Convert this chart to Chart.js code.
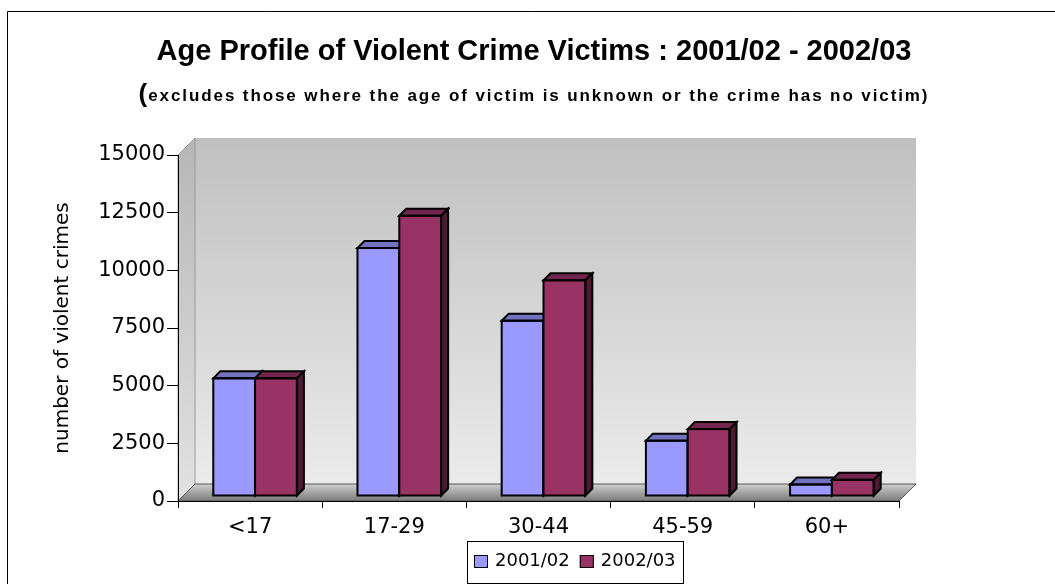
<!DOCTYPE html>
<html>
<head>
<meta charset="utf-8">
<title>Age Profile of Violent Crime Victims</title>
<script src="https://cdn.jsdelivr.net/npm/chart.js@4.4.1/dist/chart.umd.min.js"></script>
<style>
  html, body { margin: 0; padding: 0; background: #fff; }
</style>
</head>
<body>
<canvas id="myChart" width="1055" height="584"></canvas>
<script>
// Chart data
const ageGroups = ['<17', '17-29', '30-44', '45-59', '60+'];
const seriesNames = ['2001/02', '2002/03'];
const victims2001 = [5100, 10750, 7600, 2400, 500];
const victims2002 = [5100, 12150, 9350, 2900, 700];
const yTicks = [0, 2500, 5000, 7500, 10000, 12500, 15000];

const titleText = 'Age Profile of Violent Crime Victims : 2001/02 - 2002/03';
const subtitleText = 'excludes those where the age of victim is unknown or the crime has no victim)';
const yTitleText = 'number of violent crimes';

const WALL_DEPTH = 17; // depth of the 3d walls / floor
const BAR_SHIFT = 5;   // bars stand a bit behind the front edge
const BAR_DEPTH = 7;   // depth of each bar

const ctx = document.getElementById('myChart').getContext('2d');

function poly(c, pts, fill) {
    c.beginPath();
    c.moveTo(pts[0][0], pts[0][1]);
    for (let i = 1; i < pts.length; i++) c.lineTo(pts[i][0], pts[i][1]);
    c.closePath();
    if (fill) { c.fillStyle = fill; c.fill(); }
}

const depthPlugin = {
    id: 'depth3d',
    beforeDraw(chart) {
        const c = chart.ctx, a = chart.chartArea, d = WALL_DEPTH;
        c.save();
        c.fillStyle = '#fff';
        c.fillRect(0, 0, chart.width, chart.height);

        // outer frame (only top and left edges are in view)
        c.strokeStyle = '#000';
        c.lineWidth = 1;
        c.beginPath();
        c.moveTo(7.5, chart.height + 2);
        c.lineTo(7.5, 11.5);
        c.lineTo(chart.width + 2, 11.5);
        c.stroke();

        // back wall
        const wall = c.createLinearGradient(0, a.top - d, 0, a.bottom - d);
        wall.addColorStop(0, '#c0c0c0');
        wall.addColorStop(1, '#ebebeb');
        c.fillStyle = wall;
        c.fillRect(a.left + d, a.top - d, a.right - a.left, a.bottom - a.top);

        // side wall
        const side = c.createLinearGradient(0, a.top - d, 0, a.bottom);
        side.addColorStop(0, '#b6b6b6');
        side.addColorStop(1, '#e2e2e2');
        poly(c, [[a.left, a.top], [a.left + d, a.top - d], [a.left + d, a.bottom - d], [a.left, a.bottom]], side);
        c.strokeStyle = '#9a9a9a';
        c.stroke();

        // floor
        const floor = c.createLinearGradient(0, a.bottom - d, 0, a.bottom);
        floor.addColorStop(0, '#cfcfcf');
        floor.addColorStop(1, '#7a7a7a');
        poly(c, [[a.left, a.bottom], [a.left + d, a.bottom - d], [a.right + d, a.bottom - d], [a.right, a.bottom]], floor);
        c.strokeStyle = '#555';
        c.stroke();
        c.restore();
    },
    beforeDatasetsDraw(chart) {
        chart.ctx.save();
        chart.ctx.translate(BAR_SHIFT, -BAR_SHIFT);
    },
    afterDatasetsDraw(chart) {
        // give every bar its top and side, series by series from left to right
        const c = chart.ctx, d = BAR_DEPTH;
        c.strokeStyle = '#000';
        c.lineWidth = 2;
        c.lineJoin = 'miter';
        chart.data.datasets.forEach((ds, i) => {
            chart.getDatasetMeta(i).data.forEach(bar => {
                const {x, y, base, width} = bar.getProps(['x', 'y', 'base', 'width'], true);
                const x0 = x - width / 2, x1 = x + width / 2;
                c.fillStyle = ds.backgroundColor;
                c.fillRect(x0, y, width, base - y);
                poly(c, [[x0, y], [x0 + d, y - d], [x1 + d, y - d], [x1, y]], ds.topColor);
                c.stroke();
                poly(c, [[x1, y], [x1 + d, y - d], [x1 + d, base - d], [x1, base]], ds.sideColor);
                c.stroke();
                c.strokeRect(x0, y, width, base - y);
            });
        });
        c.restore();
    },
    afterDraw(chart) {
        const c = chart.ctx;
        const tb = chart.titleBlock;
        const cx = (tb.left + tb.right) / 2;
        c.save();
        c.fillStyle = '#000';
        c.textBaseline = 'alphabetic';
        c.textAlign = 'left';

        // subtitle, spaced out letters with an oversized opening bracket
        const spacing = 1.9;
        c.font = 'bold 17px "Liberation Sans", Arial, sans-serif';
        let textW = 0;
        for (const ch of subtitleText) textW += c.measureText(ch).width + spacing;
        c.font = 'bold 26px "Liberation Sans", Arial, sans-serif';
        const parenW = c.measureText('(').width + 1;
        let x = cx - (parenW + textW) / 2;
        c.fillText('(', x, 102);
        x += parenW;
        c.font = 'bold 17px "Liberation Sans", Arial, sans-serif';
        for (const ch of subtitleText) {
            c.fillText(ch, x, 101);
            x += c.measureText(ch).width + spacing;
        }

        // legend box
        const datasets = chart.data.datasets;
        c.font = '18px "DejaVu Sans", sans-serif';
        const pad = 7, box = 14, gap = 7, itemGap = 10;
        let w = pad * 2;
        datasets.forEach((ds, i) => {
            w += box + gap + c.measureText(ds.label).width + (i ? itemGap : 0);
        });
        const lx = 467, ly = 541, lh = 42;
        c.strokeStyle = '#000';
        c.lineWidth = 1;
        c.strokeRect(lx + 0.5, ly + 0.5, Math.round(w), lh);
        let ix = lx + pad;
        datasets.forEach(ds => {
            c.fillStyle = ds.backgroundColor;
            c.fillRect(ix, ly + 14, box, 13);
            c.strokeRect(ix + 0.5, ly + 14.5, box - 1, 12);
            ix += box + gap;
            c.fillStyle = '#000';
            c.fillText(ds.label, ix, ly + 25);
            ix += c.measureText(ds.label).width + itemGap;
        });
        c.restore();
    }
};

Chart.defaults.font.family = '"DejaVu Sans", sans-serif';
Chart.defaults.color = '#000';

const chart = new Chart(ctx, {
    type: 'bar',
    data: {
        labels: ageGroups,
        datasets: [
            {
                label: seriesNames[0],
                data: victims2001,
                backgroundColor: '#9999ff',
                topColor: '#7272be',
                sideColor: '#5a5a9e',
                borderWidth: 0
            },
            {
                label: seriesNames[1],
                data: victims2002,
                backgroundColor: '#993366',
                topColor: '#73264d',
                sideColor: '#4d1933',
                borderWidth: 0
            }
        ]
    },
    options: {
        responsive: false,
        animation: false,
        devicePixelRatio: 1,
        layout: { padding: { left: 13, right: 0, top: 0, bottom: 0 } },
        categoryPercentage: 0.58,
        barPercentage: 1,
        plugins: {
            legend: { display: false },
            tooltip: { enabled: false },
            title: {
                display: true,
                text: titleText,
                color: '#000',
                font: { family: '"Liberation Sans", Arial, sans-serif', size: 29, weight: 'bold' },
                padding: { top: 35, bottom: 85.2 }
            }
        },
        scales: {
            x: {
                afterFit: axis => { axis.height = 83; },
                grid: { drawOnChartArea: false, tickLength: 7, color: '#000', offset: true },
                border: { color: '#000', width: 1 },
                ticks: { color: '#000', padding: 7, font: { size: 21 } }
            },
            y: {
                position: 'left',
                min: 0,
                max: 15000,
                afterBuildTicks: axis => { axis.ticks = yTicks.map(v => ({ value: v })); },
                afterFit: axis => { axis.width = 165; },
                grid: { drawOnChartArea: false, tickLength: 11, color: '#000' },
                border: { color: '#000', width: 1 },
                ticks: { color: '#000', padding: 2, font: { size: 21 }, callback: v => String(v) },
                title: {
                    display: true,
                    text: yTitleText,
                    color: '#000',
                    font: { size: 20 },
                    padding: { top: 38, bottom: 0 }
                }
            },
            // empty space on the right, so the title stays centred on the frame
            yRight: {
                position: 'right',
                grid: { display: false },
                border: { display: false },
                ticks: { display: false },
                afterFit: axis => { axis.width = 156; }
            }
        }
    },
    plugins: [depthPlugin]
});
</script>
</body>
</html>
